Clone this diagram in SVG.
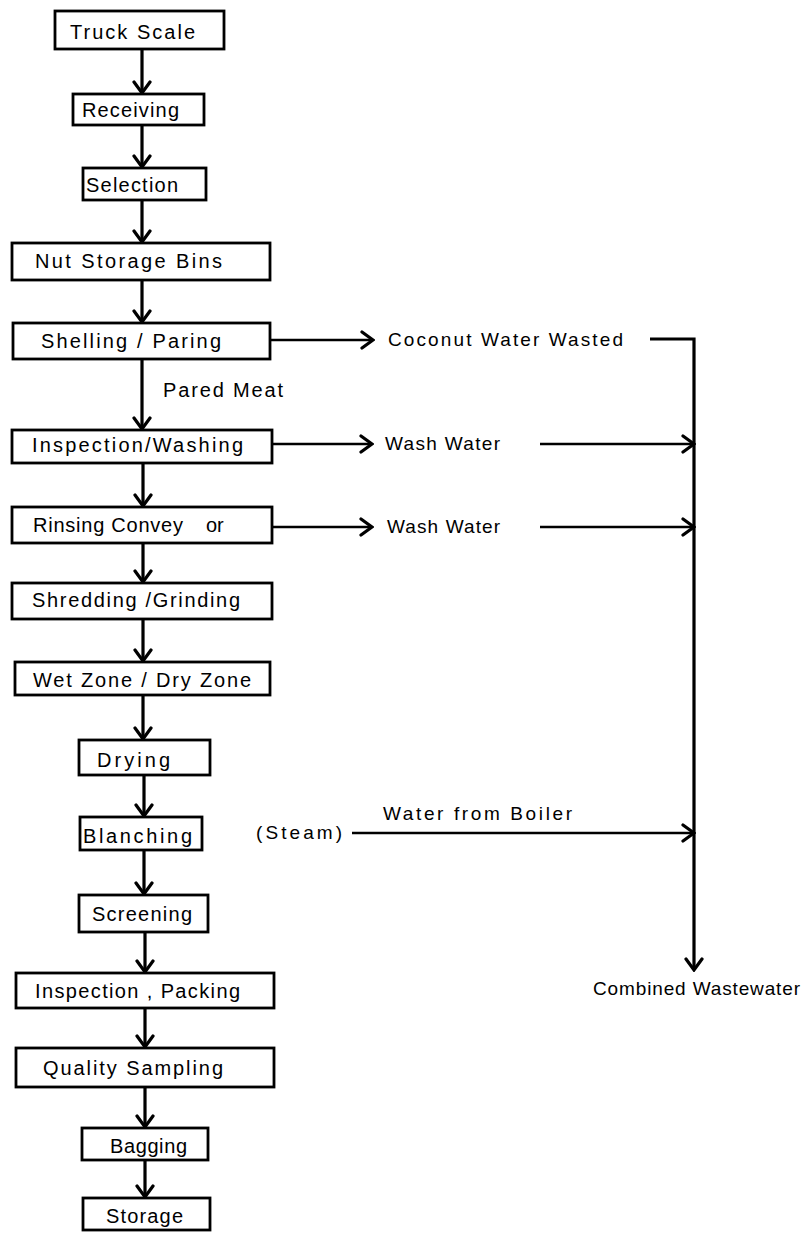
<svg xmlns="http://www.w3.org/2000/svg" width="806" height="1233" viewBox="0 0 806 1233">
  <style>
    .box { fill: #fff; stroke: #000; stroke-width: 2.8; }
    .lbl { font-family: "Liberation Sans", Arial, sans-serif; font-size: 20px; fill: #000; }
    .side { font-family: "Liberation Sans", Arial, sans-serif; font-size: 19px; fill: #000; }
    .flow { fill: none; stroke: #000; stroke-width: 3.2; }
    .aux { fill: none; stroke: #000; stroke-width: 2.6; }
  </style>
  <defs>
    <marker id="chev" markerUnits="userSpaceOnUse" viewBox="-13 -10 15 20" markerWidth="15" markerHeight="20" refX="0" refY="0" orient="auto">
      <path d="M-11,-8 L0,0 L-11,8" fill="none" stroke="#000" stroke-width="3.2" stroke-linecap="round" stroke-linejoin="miter"/>
    </marker>
  </defs>
  <rect width="806" height="1233" fill="#fff"/>

  <!-- main process line -->
  <g id="connectors">
    <line class="flow" x1="142" y1="49" x2="142" y2="93" marker-end="url(#chev)"/>
    <line class="flow" x1="142" y1="125" x2="142" y2="167" marker-end="url(#chev)"/>
    <line class="flow" x1="142" y1="200" x2="142" y2="242" marker-end="url(#chev)"/>
    <line class="flow" x1="142" y1="280" x2="142" y2="322" marker-end="url(#chev)"/>
    <line class="flow" x1="142" y1="359" x2="142" y2="429" marker-end="url(#chev)"/>
    <line class="flow" x1="143" y1="463" x2="143" y2="506" marker-end="url(#chev)"/>
    <line class="flow" x1="143" y1="543" x2="143" y2="582" marker-end="url(#chev)"/>
    <line class="flow" x1="143" y1="619" x2="143" y2="661" marker-end="url(#chev)"/>
    <line class="flow" x1="143" y1="695" x2="143" y2="739" marker-end="url(#chev)"/>
    <line class="flow" x1="144" y1="775" x2="144" y2="816" marker-end="url(#chev)"/>
    <line class="flow" x1="144" y1="850" x2="144" y2="894" marker-end="url(#chev)"/>
    <line class="flow" x1="145" y1="932" x2="145" y2="972" marker-end="url(#chev)"/>
    <line class="flow" x1="145" y1="1008" x2="145" y2="1047" marker-end="url(#chev)"/>
    <line class="flow" x1="145" y1="1087" x2="145" y2="1127" marker-end="url(#chev)"/>
    <line class="flow" x1="145" y1="1160" x2="145" y2="1197" marker-end="url(#chev)"/>

    <!-- waste streams -->
    <line class="aux" x1="270" y1="340" x2="373" y2="340" marker-end="url(#chev)"/>
    <line class="aux" x1="272" y1="444" x2="372" y2="444" marker-end="url(#chev)"/>
    <line class="aux" x1="272" y1="527" x2="372" y2="527" marker-end="url(#chev)"/>
    <line class="aux" x1="540" y1="444" x2="694" y2="444" marker-end="url(#chev)"/>
    <line class="aux" x1="540" y1="527" x2="694" y2="527" marker-end="url(#chev)"/>
    <line class="aux" x1="352" y1="833" x2="694" y2="833" marker-end="url(#chev)"/>
    <polyline class="flow" points="650,339 694,339 694,970" marker-end="url(#chev)"/>
  </g>

  <g id="truck-scale"><rect class="box" x="55" y="11" width="169" height="38"/><text class="lbl" x="70" y="39" textLength="125" lengthAdjust="spacing">Truck Scale</text></g>
  <g id="receiving"><rect class="box" x="73" y="94" width="131" height="31"/><text class="lbl" x="82" y="117" textLength="97" lengthAdjust="spacing">Receiving</text></g>
  <g id="selection"><rect class="box" x="83" y="168" width="123" height="32"/><text class="lbl" x="86" y="192" textLength="92" lengthAdjust="spacing">Selection</text></g>
  <g id="nut-storage"><rect class="box" x="12" y="243" width="258" height="37"/><text class="lbl" x="35" y="268" textLength="187" lengthAdjust="spacing">Nut Storage Bins</text></g>
  <g id="shelling"><rect class="box" x="13" y="323" width="257" height="36"/><text class="lbl" x="41" y="348" textLength="180" lengthAdjust="spacing">Shelling / Paring</text></g>
  <text id="pared-meat" class="lbl" x="163" y="397" textLength="120" lengthAdjust="spacing">Pared Meat</text>
  <g id="inspection-washing"><rect class="box" x="12" y="430" width="260" height="33"/><text class="lbl" x="32" y="452" textLength="211" lengthAdjust="spacing">Inspection/Washing</text></g>
  <g id="rinsing"><rect class="box" x="12" y="507" width="260" height="36"/><text class="lbl" y="532"><tspan x="33" textLength="150" lengthAdjust="spacing">Rinsing Convey</tspan><tspan x="206">or</tspan></text></g>
  <g id="shredding"><rect class="box" x="12" y="583" width="260" height="36"/><text class="lbl" x="32" y="607" textLength="208" lengthAdjust="spacing">Shredding /Grinding</text></g>
  <g id="wet-dry-zone"><rect class="box" x="15" y="662" width="255" height="33"/><text class="lbl" x="33" y="687" textLength="218" lengthAdjust="spacing">Wet Zone / Dry Zone</text></g>
  <g id="drying"><rect class="box" x="79" y="740" width="131" height="35"/><text class="lbl" x="97" y="767" textLength="73" lengthAdjust="spacing">Drying</text></g>
  <g id="blanching"><rect class="box" x="80" y="817" width="122" height="33"/><text class="lbl" x="83" y="843" textLength="109" lengthAdjust="spacing">Blanching</text></g>
  <g id="screening"><rect class="box" x="79" y="895" width="129" height="37"/><text class="lbl" x="92" y="921" textLength="100" lengthAdjust="spacing">Screening</text></g>
  <g id="inspection-packing"><rect class="box" x="16" y="973" width="258" height="35"/><text class="lbl" x="35" y="998" textLength="205" lengthAdjust="spacing">Inspection , Packing</text></g>
  <g id="quality-sampling"><rect class="box" x="16" y="1048" width="258" height="39"/><text class="lbl" x="43" y="1075" textLength="180" lengthAdjust="spacing">Quality Sampling</text></g>
  <g id="bagging"><rect class="box" x="82" y="1128" width="126" height="32"/><text class="lbl" x="110" y="1153" textLength="77" lengthAdjust="spacing">Bagging</text></g>
  <g id="storage"><rect class="box" x="83" y="1198" width="127" height="32"/><text class="lbl" x="106" y="1223" textLength="77" lengthAdjust="spacing">Storage</text></g>

  <g id="coconut-water"><text class="side" x="388" y="346" textLength="235" lengthAdjust="spacing">Coconut Water Wasted</text></g>
  <g id="wash-water-1"><text class="side" x="385" y="450" textLength="115" lengthAdjust="spacing">Wash Water</text></g>
  <g id="wash-water-2"><text class="side" x="387" y="533" textLength="113" lengthAdjust="spacing">Wash Water</text></g>
  <g id="steam"><text class="side" x="256" y="839" textLength="86" lengthAdjust="spacing">(Steam)</text></g>
  <g id="boiler-water"><text class="side" x="383" y="820" textLength="189" lengthAdjust="spacing">Water from Boiler</text></g>
  <g id="combined-wastewater"><text class="side" x="593" y="995" textLength="207" lengthAdjust="spacing">Combined Wastewater</text></g>
</svg>
